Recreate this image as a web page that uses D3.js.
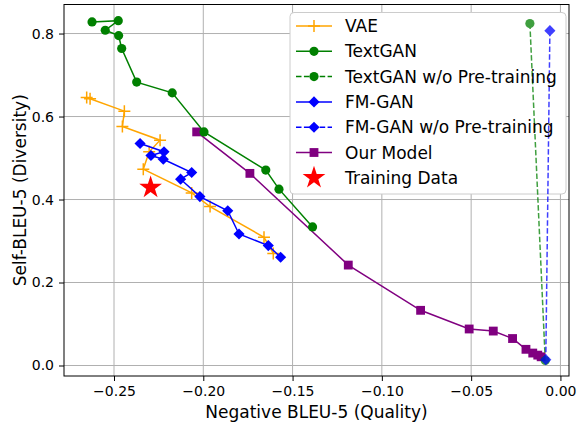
<!DOCTYPE html>
<html>
<head>
<meta charset="utf-8">
<script src="https://cdn.jsdelivr.net/npm/d3@7/dist/d3.min.js"></script>
<style>
  body { margin: 0; background: #fff; }
  text { font-family: "DejaVu Sans", sans-serif; }
</style>
</head>
<body>
<script>
var width = 577;
var height = 425;

// data
var vaeX = [-0.2653, -0.2634, -0.2442, -0.2453, -0.2242, -0.2303, -0.2336, -0.2065, -0.1962, -0.1660, -0.1608];
var vaeY = [0.646, 0.643, 0.613, 0.576, 0.543, 0.515, 0.473, 0.416, 0.383, 0.309, 0.270];

var textganX = [-0.2623, -0.2476, -0.2549, -0.2474, -0.2457, -0.2373, -0.2174, -0.1996, -0.1650, -0.1576, -0.1388];
var textganY = [0.828, 0.831, 0.808, 0.795, 0.764, 0.683, 0.657, 0.563, 0.471, 0.425, 0.334];

var textganNoPreX = [-0.0171, -0.0085];
var textganNoPreY = [0.824, 0.012];

var fmganX = [-0.2354, -0.2220, -0.2293, -0.2224, -0.2065, -0.2127, -0.2019, -0.1863, -0.1800, -0.1636, -0.1567];
var fmganY = [0.535, 0.515, 0.506, 0.497, 0.465, 0.449, 0.407, 0.373, 0.317, 0.289, 0.261];

var fmganNoPreX = [-0.0059, -0.0082];
var fmganNoPreY = [0.807, 0.014];

var ourX = [-0.2037, -0.1739, -0.1188, -0.0783, -0.0511, -0.0376, -0.0268, -0.0193, -0.0155, -0.0127, -0.0108];
var ourY = [0.563, 0.463, 0.242, 0.133, 0.088, 0.083, 0.065, 0.039, 0.030, 0.025, 0.021];

var trainX = [-0.2295];
var trainY = [0.429];

var xTicks = [-0.25, -0.20, -0.15, -0.10, -0.05, 0.00];
var yTicks = [0.0, 0.2, 0.4, 0.6, 0.8];

var plotLeft = 64, plotRight = 569, plotTop = 4.5, plotBottom = 376;

var x = d3.scaleLinear().domain([-0.278, 0.0048]).range([plotLeft, plotRight]);
var y = d3.scaleLinear().domain([-0.0253, 0.870]).range([plotBottom, plotTop]);

var svg = d3.select("body")
            .append("svg")
            .attr("width", width)
            .attr("height", height);

// grid
svg.append("g").selectAll("line")
   .data(xTicks).enter().append("line")
   .attr("x1", function(d) { return x(d); })
   .attr("x2", function(d) { return x(d); })
   .attr("y1", plotTop).attr("y2", plotBottom)
   .attr("stroke", "#b0b0b0").attr("stroke-width", 1);

svg.append("g").selectAll("line")
   .data(yTicks).enter().append("line")
   .attr("x1", plotLeft).attr("x2", plotRight)
   .attr("y1", function(d) { return y(d); })
   .attr("y2", function(d) { return y(d); })
   .attr("stroke", "#b0b0b0").attr("stroke-width", 1);

// axes
var fmtX = function(d) { return d3.format(".2f")(d).replace("-", "\u2212"); };

var xAxis = svg.append("g")
   .attr("transform", "translate(0," + plotBottom + ")")
   .call(d3.axisBottom(x).tickValues(xTicks).tickFormat(fmtX).tickSize(5).tickPadding(5));

var yAxis = svg.append("g")
   .attr("transform", "translate(" + plotLeft + ",0)")
   .call(d3.axisLeft(y).tickValues(yTicks).tickFormat(d3.format(".1f")).tickSize(5).tickPadding(5));

[xAxis, yAxis].forEach(function(a) {
  a.attr("font-size", null).attr("font-family", null);
  a.select(".domain").remove();
  a.selectAll("text")
   .style("font-size", "14px")
   .attr("fill", "#000");
  a.selectAll("line").attr("stroke", "#000");
});

svg.append("rect")
   .attr("x", plotLeft).attr("y", plotTop)
   .attr("width", plotRight - plotLeft).attr("height", plotBottom - plotTop)
   .attr("fill", "none").attr("stroke", "#000").attr("stroke-width", 1);

svg.append("text")
   .attr("x", (plotLeft + plotRight) / 2).attr("y", 418)
   .attr("text-anchor", "middle")
   .style("font-size", "17px")
   .text("Negative BLEU-5 (Quality)");

svg.append("text")
   .attr("transform", "translate(26," + (plotTop + plotBottom) / 2 + ") rotate(-90)")
   .attr("text-anchor", "middle")
   .style("font-size", "17px")
   .text("Self-BLEU-5 (Diversity)");

// legend frame goes under the data so the dashed lines stay visible
var legend = svg.append("g");
legend.append("rect")
      .attr("x", 290).attr("y", 12.5)
      .attr("width", 276).attr("height", 181.5)
      .attr("rx", 4)
      .attr("fill", "#fff")
      .attr("stroke", "#cccccc");

// series
var line = d3.line()
             .x(function(d) { return x(d[0]); })
             .y(function(d) { return y(d[1]); });

function pts(xs, ys) {
  return xs.map(function(v, i) { return [v, ys[i]]; });
}

var symbols = {
  circle: d3.symbol().type(d3.symbolCircle).size(66),
  diamond: d3.symbol().type(d3.symbolSquare).size(62),
  square: d3.symbol().type(d3.symbolSquare).size(78),
  star: d3.symbol().type(d3.symbolStar).size(160)
};

function drawMarker(g, kind, color, cx, cy) {
  if (kind === "plus") {
    g.append("path")
     .attr("d", "M" + (cx - 6) + "," + cy + "H" + (cx + 6) + "M" + cx + "," + (cy - 6) + "V" + (cy + 6))
     .attr("stroke", color).attr("stroke-width", 1.5).attr("fill", "none");
  } else {
    g.append("path")
     .attr("d", symbols[kind]())
     .attr("fill", color)
     .attr("transform", "translate(" + cx + "," + cy + ")" + (kind === "diamond" ? " rotate(45)" : ""));
  }
}

var series = [
  {name: "Our Model", xs: ourX, ys: ourY, color: "purple", marker: "square", dash: null, op: 1},
  {name: "VAE", xs: vaeX, ys: vaeY, color: "orange", marker: "plus", dash: null, op: 1},
  {name: "TextGAN", xs: textganX, ys: textganY, color: "green", marker: "circle", dash: null, op: 1},
  {name: "FM-GAN", xs: fmganX, ys: fmganY, color: "blue", marker: "diamond", dash: null, op: 1},
  {name: "TextGAN w/o Pre-training", xs: textganNoPreX, ys: textganNoPreY, color: "green", marker: "circle", dash: "5.5,2.4", op: 0.75},
  {name: "FM-GAN w/o Pre-training", xs: fmganNoPreX, ys: fmganNoPreY, color: "blue", marker: "diamond", dash: "5.5,2.4", op: 0.75}
];

series.forEach(function(s) {
  var g = svg.append("g").attr("opacity", s.op);
  var data = pts(s.xs, s.ys);
  g.append("path")
   .attr("d", line(data))
   .attr("fill", "none")
   .attr("stroke", s.color)
   .attr("stroke-width", 1.5)
   .attr("stroke-dasharray", s.dash);
  data.forEach(function(d) {
    drawMarker(g, s.marker, s.color, x(d[0]), y(d[1]));
  });
});

pts(trainX, trainY).forEach(function(d) {
  drawMarker(svg, "star", "red", x(d[0]), y(d[1]));
});

// legend entries
var legendItems = [
  {name: "VAE", color: "orange", marker: "plus", dash: null},
  {name: "TextGAN", color: "green", marker: "circle", dash: null},
  {name: "TextGAN w/o Pre-training", color: "green", marker: "circle", dash: "5.5,2.4"},
  {name: "FM-GAN", color: "blue", marker: "diamond", dash: null},
  {name: "FM-GAN w/o Pre-training", color: "blue", marker: "diamond", dash: "5.5,2.4"},
  {name: "Our Model", color: "purple", marker: "square", dash: null},
  {name: "Training Data", color: "red", marker: "star", dash: null, noLine: true}
];

var legendKeys = svg.append("g");
legendItems.forEach(function(item, i) {
  var ly = 26 + i * 25.3;
  var g = legendKeys.append("g");
  if (!item.noLine) {
    g.append("line")
     .attr("x1", 296).attr("x2", 332)
     .attr("y1", ly).attr("y2", ly)
     .attr("stroke", item.color).attr("stroke-width", 1.5)
     .attr("stroke-dasharray", item.dash);
  }
  drawMarker(g, item.marker, item.color, 314, ly);
  legendKeys.append("text")
        .attr("x", 345).attr("y", ly + 6)
        .style("font-size", "17px")
        .attr("fill", "#000")
        .text(item.name);
});
</script>
</body>
</html>
